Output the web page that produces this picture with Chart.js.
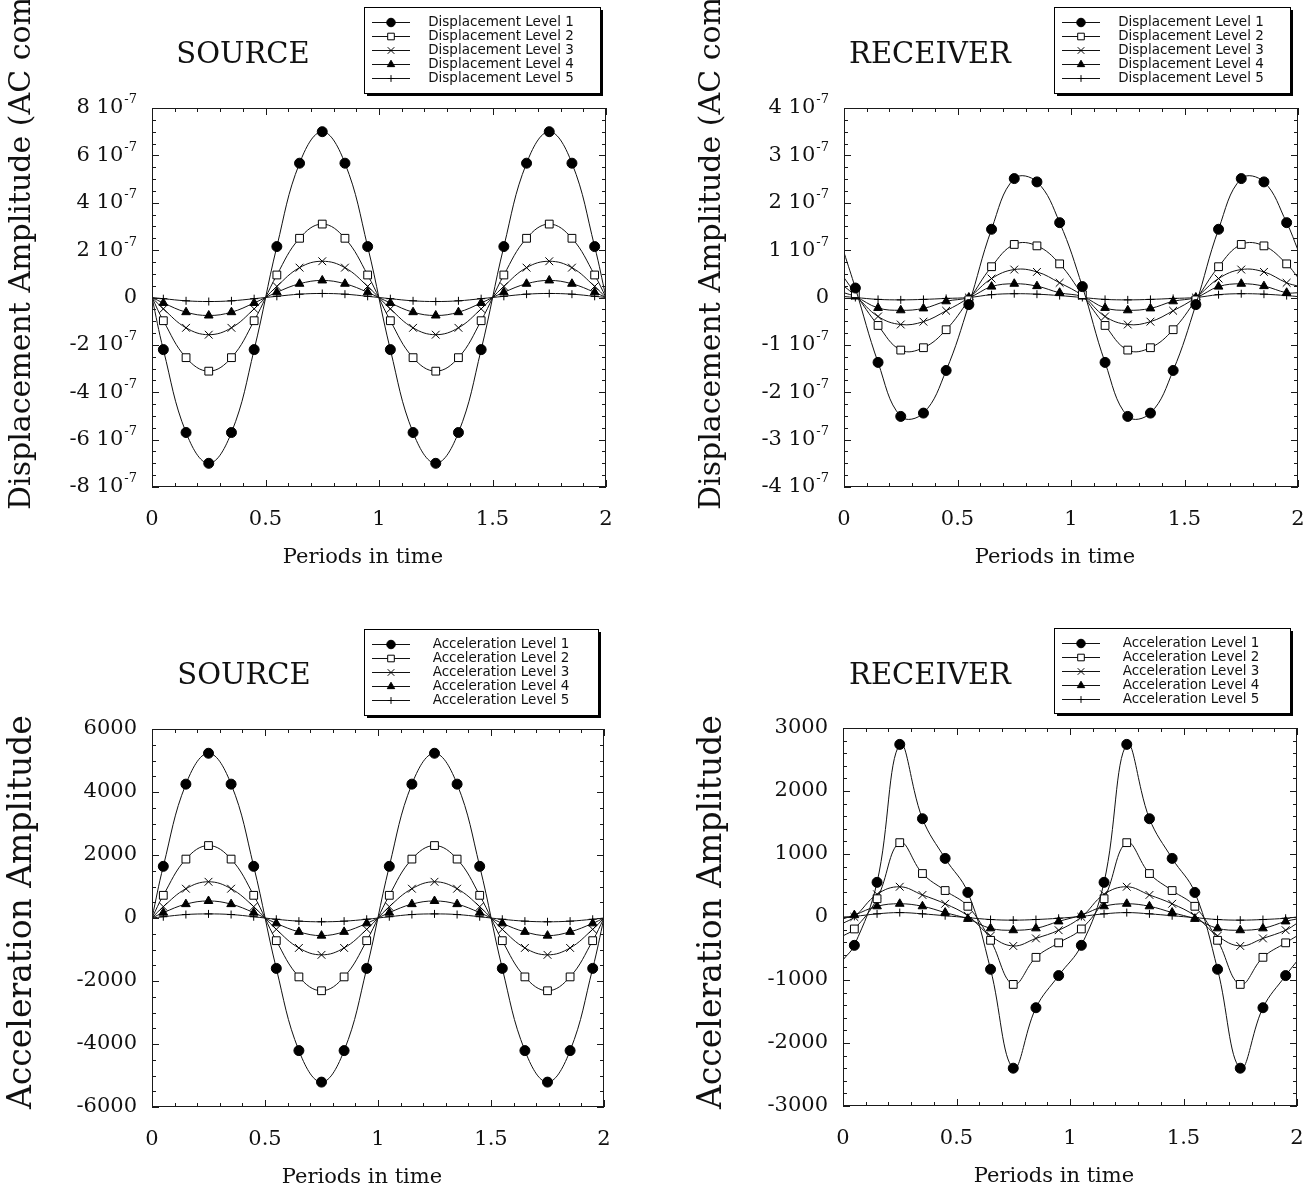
<!DOCTYPE html>
<html>
<head>
<meta charset="utf-8">
<script src="https://cdn.jsdelivr.net/npm/chart.js@4.4.1/dist/chart.umd.min.js"></script>
<style>
  html, body { margin: 0; padding: 0; background: #fff; }
  #wrap { position: relative; width: 1312px; height: 1192px; overflow: hidden; }
  canvas { position: absolute; }
</style>
</head>
<body>
<div id="wrap">
  <canvas id="srcDisp" width="656" height="596" style="left:0;top:0"></canvas>
  <canvas id="rcvDisp" width="656" height="596" style="left:656px;top:0"></canvas>
  <canvas id="srcAcc" width="656" height="596" style="left:0;top:596px"></canvas>
  <canvas id="rcvAcc" width="656" height="596" style="left:656px;top:596px"></canvas>
</div>
<script>
// sample times (periods), markers on all but the two ends
var periods = [0, 0.05, 0.15, 0.25, 0.35, 0.45, 0.55, 0.65, 0.75, 0.85, 0.95,
               1.05, 1.15, 1.25, 1.35, 1.45, 1.55, 1.65, 1.75, 1.85, 1.95, 2];
var xTicks = [0, 0.5, 1, 1.5, 2];
var xTickLabels = ['0', '0.5', '1', '1.5', '2'];

var dispNames = ['Displacement Level 1', 'Displacement Level 2', 'Displacement Level 3', 'Displacement Level 4', 'Displacement Level 5'];
var accNames = ['Acceleration Level 1', 'Acceleration Level 2', 'Acceleration Level 3', 'Acceleration Level 4', 'Acceleration Level 5'];

// SOURCE displacement
var srcDisp1 = [0, -2.2e-7, -5.7e-7, -7.0e-7, -5.7e-7, -2.2e-7, 2.15e-7, 5.67e-7, 7.0e-7, 5.67e-7, 2.15e-7,
                -2.2e-7, -5.7e-7, -7.0e-7, -5.7e-7, -2.2e-7, 2.15e-7, 5.67e-7, 7.0e-7, 5.67e-7, 2.15e-7, 0];
var srcDisp2 = [0, -0.98e-7, -2.54e-7, -3.11e-7, -2.54e-7, -0.98e-7, 0.95e-7, 2.5e-7, 3.1e-7, 2.5e-7, 0.95e-7,
                -0.98e-7, -2.54e-7, -3.11e-7, -2.54e-7, -0.98e-7, 0.95e-7, 2.5e-7, 3.1e-7, 2.5e-7, 0.95e-7, 0];
var srcDisp3 = [0, -0.48e-7, -1.28e-7, -1.57e-7, -1.28e-7, -0.48e-7, 0.47e-7, 1.26e-7, 1.53e-7, 1.26e-7, 0.47e-7,
                -0.48e-7, -1.28e-7, -1.57e-7, -1.28e-7, -0.48e-7, 0.47e-7, 1.26e-7, 1.53e-7, 1.26e-7, 0.47e-7, 0];
var srcDisp4 = [0, -0.23e-7, -0.62e-7, -0.76e-7, -0.62e-7, -0.23e-7, 0.22e-7, 0.58e-7, 0.72e-7, 0.58e-7, 0.22e-7,
                -0.23e-7, -0.62e-7, -0.76e-7, -0.62e-7, -0.23e-7, 0.22e-7, 0.58e-7, 0.72e-7, 0.58e-7, 0.22e-7, 0];
var srcDisp5 = [0, -0.05e-7, -0.14e-7, -0.17e-7, -0.14e-7, -0.05e-7, 0.05e-7, 0.14e-7, 0.17e-7, 0.14e-7, 0.05e-7,
                -0.05e-7, -0.14e-7, -0.17e-7, -0.14e-7, -0.05e-7, 0.05e-7, 0.14e-7, 0.17e-7, 0.14e-7, 0.05e-7, 0];

// RECEIVER displacement
var rcvDisp1 = [0.95e-7, 0.2e-7, -1.37e-7, -2.51e-7, -2.44e-7, -1.54e-7, -0.15e-7, 1.44e-7, 2.51e-7, 2.44e-7, 1.58e-7,
                0.23e-7, -1.37e-7, -2.51e-7, -2.44e-7, -1.54e-7, -0.15e-7, 1.44e-7, 2.51e-7, 2.44e-7, 1.58e-7, 1.0e-7];
var rcvDisp2 = [0.42e-7, 0.08e-7, -0.59e-7, -1.11e-7, -1.06e-7, -0.68e-7, -0.05e-7, 0.65e-7, 1.12e-7, 1.09e-7, 0.71e-7,
                0.06e-7, -0.59e-7, -1.11e-7, -1.06e-7, -0.68e-7, -0.05e-7, 0.65e-7, 1.12e-7, 1.09e-7, 0.71e-7, 0.42e-7];
var rcvDisp3 = [0.24e-7, 0.04e-7, -0.40e-7, -0.57e-7, -0.51e-7, -0.28e-7, 0.0, 0.40e-7, 0.59e-7, 0.54e-7, 0.31e-7,
                0.04e-7, -0.40e-7, -0.57e-7, -0.51e-7, -0.28e-7, 0.0, 0.40e-7, 0.59e-7, 0.54e-7, 0.31e-7, 0.24e-7];
var rcvDisp4 = [0.1e-7, 0.02e-7, -0.22e-7, -0.27e-7, -0.23e-7, -0.08e-7, 0.0, 0.23e-7, 0.29e-7, 0.24e-7, 0.1e-7,
                0.02e-7, -0.22e-7, -0.27e-7, -0.23e-7, -0.08e-7, 0.0, 0.23e-7, 0.29e-7, 0.24e-7, 0.1e-7, 0.1e-7];
var rcvDisp5 = [0.02e-7, 0.0, -0.04e-7, -0.05e-7, -0.04e-7, -0.02e-7, 0.0, 0.06e-7, 0.08e-7, 0.07e-7, 0.04e-7,
                0.0, -0.04e-7, -0.05e-7, -0.04e-7, -0.02e-7, 0.0, 0.06e-7, 0.08e-7, 0.07e-7, 0.04e-7, 0.02e-7];

// SOURCE acceleration
var srcAcc1 = [0, 1640, 4250, 5230, 4250, 1640, -1600, -4210, -5210, -4210, -1600,
               1640, 4250, 5230, 4250, 1640, -1600, -4210, -5210, -4210, -1600, 0];
var srcAcc2 = [0, 720, 1870, 2300, 1870, 720, -720, -1870, -2310, -1870, -720,
               720, 1870, 2300, 1870, 720, -720, -1870, -2310, -1870, -720, 0];
var srcAcc3 = [0, 360, 930, 1150, 930, 360, -360, -950, -1170, -950, -360,
               360, 930, 1150, 930, 360, -360, -950, -1170, -950, -360, 0];
var srcAcc4 = [0, 170, 440, 540, 440, 170, -170, -440, -560, -440, -170,
               170, 440, 540, 440, 170, -170, -440, -560, -440, -170, 0];
var srcAcc5 = [0, 40, 110, 130, 110, 40, -40, -100, -120, -100, -40,
               40, 110, 130, 110, 40, -40, -100, -120, -100, -40, 0];

// RECEIVER acceleration
var rcvAcc1 = [-680, -450, 550, 2740, 1560, 930, 390, -830, -2400, -1440, -930,
               -450, 550, 2740, 1560, 930, 390, -830, -2400, -1440, -930, -700];
var rcvAcc2 = [-300, -190, 290, 1180, 690, 420, 170, -370, -1070, -640, -410,
               -190, 290, 1180, 690, 420, 170, -370, -1070, -640, -410, -300];
var rcvAcc3 = [-100, 0, 360, 480, 350, 210, 20, -300, -460, -340, -210,
               0, 360, 480, 350, 210, 20, -300, -460, -340, -210, -100];
var rcvAcc4 = [-30, 30, 170, 210, 170, 70, -30, -180, -210, -180, -70,
               30, 170, 210, 170, 70, -30, -180, -210, -180, -70, -30];
var rcvAcc5 = [0, 10, 50, 70, 50, 20, -10, -40, -50, -40, -20,
               10, 50, 70, 50, 20, -10, -40, -50, -40, -20, 0];

var serif = '"DejaVu Serif", "Liberation Serif", serif';
var sans = '"DejaVu Sans", "Liberation Sans", sans-serif';

var levelStyles = [
  { pointStyle: 'circle', radius: 5, fill: '#000' },
  { pointStyle: 'rect', radius: 5.5, fill: '#fff' },
  { pointStyle: 'crossRot', radius: 5.5, fill: '#000' },
  { pointStyle: 'triangle', radius: 5, fill: '#000' },
  { pointStyle: 'cross', radius: 4, fill: '#000' }
];

function makeDatasets(names, series) {
  return series.map(function (vals, i) {
    var st = levelStyles[i];
    return {
      label: names[i],
      data: vals.map(function (v, k) { return { x: periods[k], y: v }; }),
      borderColor: '#111',
      borderWidth: 1,
      tension: 0.4,
      fill: false,
      pointStyle: st.pointStyle,
      pointRadius: periods.map(function (p, k) { return (k === 0 || k === periods.length - 1) ? 0 : st.radius; }),
      pointBackgroundColor: st.fill,
      pointBorderColor: '#000',
      pointBorderWidth: 1
    };
  });
}

function dispLabel(v) {
  var m = Math.round(v / 1e-7);
  if (m === 0) return ['0', ''];
  return [m + ' 10', '-7'];
}
function accLabel(v) {
  return [String(v), ''];
}

// frame, inside ticks, labels, titles and the boxed legend
var decor = {
  id: 'decor',
  afterDraw: function (chart, args, o) {
    var ctx = chart.ctx, a = chart.chartArea, xs = chart.scales.x, ys = chart.scales.y;
    var i, v, p, len;
    ctx.save();
    ctx.strokeStyle = '#1a1a1a';
    ctx.lineWidth = 1;
    ctx.strokeRect(a.left + 0.5, a.top + 0.5, a.right - a.left - 1, a.bottom - a.top - 1);

    ctx.beginPath();
    for (i = 0; i <= Math.round((o.yMax - o.yMin) / o.yMinor); i++) {
      v = o.yMin + i * o.yMinor;
      p = Math.round(ys.getPixelForValue(v)) + 0.5;
      len = (i % o.ySub === 0) ? 7 : 4;
      ctx.moveTo(a.left, p); ctx.lineTo(a.left + len, p);
      ctx.moveTo(a.right, p); ctx.lineTo(a.right - len, p);
    }
    for (i = 0; i <= 20; i++) {
      v = i * 0.1;
      p = Math.round(xs.getPixelForValue(v)) + 0.5;
      len = (i % 5 === 0) ? 7 : 4;
      ctx.moveTo(p, a.bottom); ctx.lineTo(p, a.bottom - len);
      ctx.moveTo(p, a.top); ctx.lineTo(p, a.top + len);
    }
    ctx.stroke();

    // y tick labels
    ctx.fillStyle = '#111';
    ctx.textBaseline = 'middle';
    o.yTicks.forEach(function (t) {
      var parts = o.fmt(t);
      var y = ys.getPixelForValue(t);
      ctx.font = '21px ' + serif;
      var w1 = ctx.measureText(parts[0]).width;
      ctx.font = '13px ' + serif;
      var w2 = parts[1] ? ctx.measureText(parts[1]).width + 1 : 0;
      var x0 = a.left - 15 - w1 - w2;
      ctx.font = '21px ' + serif;
      ctx.textAlign = 'left';
      ctx.fillText(parts[0], x0, y);
      if (parts[1]) {
        ctx.font = '13px ' + serif;
        ctx.fillText(parts[1], x0 + w1 + 1, y - 8);
      }
    });

    // x tick labels
    ctx.font = '21px ' + serif;
    ctx.textAlign = 'center';
    xTicks.forEach(function (t, k) {
      ctx.fillText(xTickLabels[k], xs.getPixelForValue(t), a.bottom + 33);
    });

    // axis titles
    ctx.fillText('Periods in time', (a.left + a.right) / 2 - 16, a.bottom + 71);
    ctx.save();
    ctx.translate(o.yTitleX, o.yTitleBottom);
    ctx.rotate(-Math.PI / 2);
    ctx.textAlign = 'left';
    ctx.font = o.yTitleSize + 'px ' + serif;
    ctx.fillText(o.yTitle, 0, 0);
    ctx.restore();

    // panel title
    ctx.font = '29px ' + serif;
    ctx.textAlign = 'center';
    ctx.fillText(o.title, o.titleX, o.titleY);

    // legend box with drop shadow
    var L = o.legend;
    ctx.fillStyle = '#000';
    ctx.fillRect(L.x + 3, L.y + 3, L.w, L.h);
    ctx.fillStyle = '#fff';
    ctx.fillRect(L.x, L.y, L.w, L.h);
    ctx.strokeStyle = '#000';
    ctx.strokeRect(L.x + 0.5, L.y + 0.5, L.w, L.h);
    chart.data.datasets.forEach(function (ds, k) {
      var ry = L.y + 15.5 + k * 14;
      ctx.strokeStyle = '#111';
      ctx.lineWidth = 1;
      ctx.beginPath();
      ctx.moveTo(L.x + 8, ry); ctx.lineTo(L.x + 46, ry);
      ctx.stroke();
      var st = levelStyles[k];
      ctx.fillStyle = st.fill;
      ctx.strokeStyle = '#000';
      if (Chart.helpers && Chart.helpers.drawPoint) {
        Chart.helpers.drawPoint(ctx, { pointStyle: st.pointStyle, radius: st.radius * 0.85, rotation: 0, borderWidth: 1 }, L.x + 27, ry);
      }
      ctx.fillStyle = '#111';
      ctx.font = '13.5px ' + sans;
      ctx.textAlign = 'center';
      ctx.fillText(ds.label, L.x + 137, ry);
    });
    ctx.restore();
  }
};

function makePanel(id, pad, yMin, yMax, yMinor, ySub, yTicks, fmt, names, series, extra) {
  var deco = {
    yMin: yMin, yMax: yMax, yMinor: yMinor, ySub: ySub, yTicks: yTicks, fmt: fmt
  };
  for (var k in extra) deco[k] = extra[k];
  return new Chart(document.getElementById(id).getContext('2d'), {
    type: 'line',
    data: { datasets: makeDatasets(names, series) },
    plugins: [decor],
    options: {
      responsive: false,
      animation: false,
      devicePixelRatio: 1,
      layout: { padding: pad },
      plugins: { legend: { display: false }, tooltip: { enabled: false }, decor: deco },
      scales: {
        x: { type: 'linear', min: 0, max: 2, display: false },
        y: { type: 'linear', min: yMin, max: yMax, display: false }
      }
    }
  });
}

makePanel('srcDisp', { left: 152, top: 108, right: 50, bottom: 109 },
  -8e-7, 8e-7, 0.5e-7, 4, [8e-7, 6e-7, 4e-7, 2e-7, 0, -2e-7, -4e-7, -6e-7, -8e-7], dispLabel,
  dispNames, [srcDisp1, srcDisp2, srcDisp3, srcDisp4, srcDisp5],
  { title: 'SOURCE', titleX: 243, titleY: 55, yTitle: 'Displacement Amplitude (AC comp)', yTitleX: 22, yTitleBottom: 510, yTitleSize: 30,
    legend: { x: 364, y: 7, w: 236, h: 86 } });

makePanel('rcvDisp', { left: 188, top: 108, right: 14, bottom: 109 },
  -4e-7, 4e-7, 0.25e-7, 4, [4e-7, 3e-7, 2e-7, 1e-7, 0, -1e-7, -2e-7, -3e-7, -4e-7], dispLabel,
  dispNames, [rcvDisp1, rcvDisp2, rcvDisp3, rcvDisp4, rcvDisp5],
  { title: 'RECEIVER', titleX: 274, titleY: 55, yTitle: 'Displacement Amplitude (AC comp)', yTitleX: 56, yTitleBottom: 510, yTitleSize: 30,
    legend: { x: 398, y: 7, w: 236, h: 86 } });

makePanel('srcAcc', { left: 152, top: 133, right: 52, bottom: 85 },
  -6000, 6000, 500, 4, [6000, 4000, 2000, 0, -2000, -4000, -6000], accLabel,
  accNames, [srcAcc1, srcAcc2, srcAcc3, srcAcc4, srcAcc5],
  { title: 'SOURCE', titleX: 244, titleY: 80, yTitle: 'Acceleration Amplitude', yTitleX: 22, yTitleBottom: 513, yTitleSize: 33,
    legend: { x: 364, y: 33, w: 234, h: 86 } });

makePanel('rcvAcc', { left: 187, top: 132, right: 15, bottom: 86 },
  -3000, 3000, 200, 5, [3000, 2000, 1000, 0, -1000, -2000, -3000], accLabel,
  accNames, [rcvAcc1, rcvAcc2, rcvAcc3, rcvAcc4, rcvAcc5],
  { title: 'RECEIVER', titleX: 274, titleY: 80, yTitle: 'Acceleration Amplitude', yTitleX: 56, yTitleBottom: 513, yTitleSize: 33,
    legend: { x: 398, y: 32, w: 236, h: 85 } });
</script>
</body>
</html>
